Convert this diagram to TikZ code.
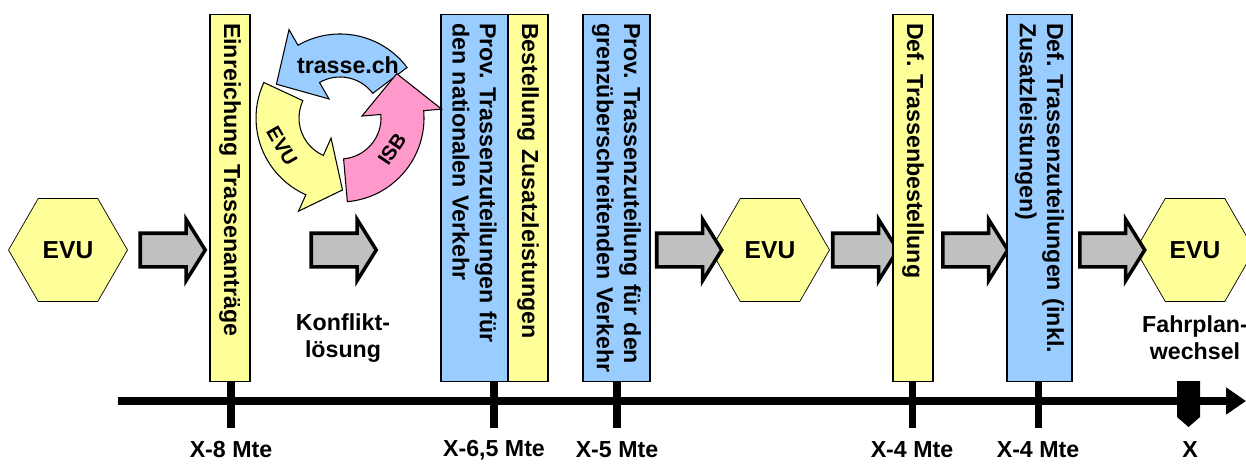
\documentclass[tikz,border=0pt]{standalone}
\usepackage{fontspec}
\setmainfont{Liberation Sans}
\usetikzlibrary{shapes.geometric,shapes.arrows,arrows.meta}
\definecolor{barblue}{RGB}{153,204,255}
\definecolor{baryel}{RGB}{255,255,153}
\definecolor{cycpink}{RGB}{255,153,204}
\definecolor{arrgray}{RGB}{192,192,192}

\begin{document}
\begin{tikzpicture}[x=0.02cm, y=0.02cm,
        every node/.style={font=\bfseries\fontsize{13.2}{15.5}\selectfont},
        hexa/.style={regular polygon, regular polygon sides=6, draw, fill=baryel, minimum size=2.38cm, inner sep=0pt, font=\bfseries\fontsize{14}{16}\selectfont},
        garrow/.style={single arrow, draw, line width=2pt, fill=arrgray, minimum height=1.3cm, inner xsep=0pt, inner ysep=0.3cm, single arrow head extend=0.28cm, single arrow tip angle=116},
        bar/.style={draw, line width=0.6pt, rotate=-90, minimum width=7.36cm, text width=7.0cm, align=left, inner xsep=0.18cm, inner ysep=0pt},
        cyc/.style={draw, line width=0.6pt},
        cyctext/.style={font=\bfseries\fontsize{11.5}{13}\selectfont, inner sep=1pt},
        tick/.style={line width=4pt}]
    \useasboundingbox (0,0) rectangle (1246,464);

    % hexagons
    \node[hexa] at (68, 214)   (evu1) {EVU};
    \node[hexa] at (770, 214)  (evu2) {EVU};
    \node[hexa] at (1195, 214) (evu3) {EVU};

    % grey block arrows
    \node[garrow] at (167.5, 214) (a1) {};
    \node[garrow] at (338.5, 214) (a2) {};
    \node[garrow] at (684, 214)   (a3) {};
    \node[garrow] at (860, 214)   (a4) {};
    \node[garrow] at (970, 214)   (a5) {};
    \node[garrow] at (1107, 214)  (a6) {};

    % bars
    \node[bar, fill=baryel, minimum height=0.8cm] at (230, 266) (b1) {Einreichung Trassenanträge};
    \node[bar, fill=barblue, minimum height=1.34cm] at (474.5, 266) (b2) {Prov.\ Trassenzuteilungen für\\den nationalen Verkehr};
    \node[bar, fill=baryel, minimum height=0.8cm] at (528, 266) (b3) {Bestellung Zusatzleistungen};
    \node[bar, fill=barblue, minimum height=1.34cm] at (616.5, 266) (b4) {Prov.\ Trassenzuteilung für den\\grenzüberschreitenden Verkehr};
    \node[bar, fill=baryel, minimum height=0.8cm] at (913, 266) (b5) {Def.\ Trassenbestellung};
    \node[bar, fill=barblue, minimum height=1.3cm] at (1039.5, 266) (b6) {Def.\ Trassenzuteilungen (inkl.\\Zusatzleistungen)};

    % cycle
    \begin{scope}[shift={(340,346)}]
        \draw[cyc, fill=barblue] (37:84) arc[start angle=37, end angle=120, radius=84] -- (120:102) -- (152:72) -- (120:22) -- (120:41) arc[start angle=120, end angle=37, radius=41] -- cycle;
        \draw[cyc, fill=baryel] (155:84) arc[start angle=155, end angle=246, radius=84] -- (246:102) -- (272:72) -- (246:22) -- (246:41) arc[start angle=246, end angle=155, radius=41] -- cycle;
        \draw[cyc, fill=cycpink] (275:84) arc[start angle=275, end angle=365, radius=84] -- (365:102) -- (398:72) -- (365:22) -- (365:41) arc[start angle=365, end angle=275, radius=41] -- cycle;
    \end{scope}
    \node at (348, 399) (tch) {trasse.ch};
    \node[cyctext, rotate=-60] at (282, 318) (cevu) {EVU};
    \node[cyctext, rotate=56] at (392, 315) (cisb) {ISB};

    \node[align=center] at (343, 126) (konf) {Konflikt-\\lösung};
    \node[align=center] at (1195, 126) (fpw) {Fahrplan-\\wechsel};

    % timeline
    \coordinate (t0) at (118, 63);
    \coordinate (t1) at (1246, 63);
    \draw[tick, -{Triangle[length=0.4cm, width=0.52cm]}] (t0) -- (t1);
    \foreach \x/\lab in {231/X-8 Mte, 494/{X-6,5 Mte}, 617/X-5 Mte, 912/X-4 Mte, 1038/X-4 Mte} {
        \draw[tick] (\x, 82) -- (\x, 36);
        \node at (\x, 14) {\lab};
    }
    \fill (1177, 83) -- (1200, 83) -- (1200, 47) -- (1188.5, 37) -- (1177, 47) -- cycle;
    \node at (1190, 14) (xlab) {X};
\end{tikzpicture}
\end{document}
